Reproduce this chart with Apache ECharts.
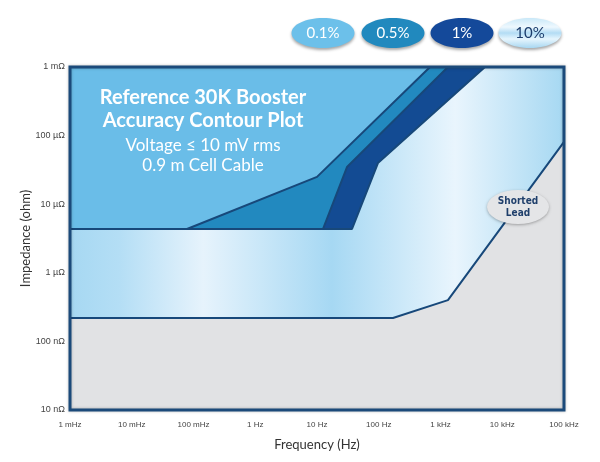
<!DOCTYPE html>
<html>
<head>
<meta charset="utf-8">
<script src="https://cdn.jsdelivr.net/npm/echarts@6/dist/echarts.min.js"></script>
<style>html,body{margin:0;padding:0;background:#fff}#c{width:600px;height:462px}</style>
</head>
<body>
<div id="c"></div>
<script>
// ---- data ----
const xTickLabels = ['1 mHz', '10 mHz', '100 mHz', '1 Hz', '10 Hz', '100 Hz', '1 kHz', '10 kHz', '100 kHz'];
const yTickLabels = ['10 nΩ', '100 nΩ', '1 µΩ', '10 µΩ', '100 µΩ', '1 mΩ'];
const legendLabels = ['0.1%', '0.5%', '1%', '10%'];

// Shorted lead (noise floor) boundary
const shortedFreq = [0.001, 170, 1320, 100000];
const shortedZ    = [2.19e-7, 2.19e-7, 4.0e-7, 8.1e-5];
// 1% contour boundary (right edge of 1% band)
const c1Freq = [0.001, 36.9, 97, 5250];
const c1Z    = [4.35e-6, 4.35e-6, 3.98e-5, 1e-3];
// 0.5% contour boundary
const c05Freq = [0.001, 12.5, 30.6, 1320];
const c05Z    = [4.35e-6, 4.35e-6, 3.48e-5, 1e-3];
// 0.1% contour boundary
const c01Freq = [0.001, 0.0785, 10, 676];
const c01Z    = [4.35e-6, 4.35e-6, 2.5e-5, 1e-3];
// Shorted lead label position
const shortedLabelAt = [18000, 9.1e-6];

const zip = (a, b) => a.map((v, i) => [v, b[i]]);

const chart = echarts.init(document.getElementById('c'));
const edge = '#17487a';
const lineStyle = { color: edge, width: 2 };

const band10 = new echarts.graphic.LinearGradient(0, 0, 1, 0, [
  { offset: 0, color: '#a6d8f2' },
  { offset: 0.1, color: '#b4def5' },
  { offset: 0.27, color: '#e6f3fc' },
  { offset: 0.53, color: '#a6d8f3' },
  { offset: 0.78, color: '#e9f5fd' },
  { offset: 1, color: '#a6d8f2' }
]);

const pillColors = ['#6cc0ea', '#2189be', '#14499a',
  new echarts.graphic.LinearGradient(0, 0, 0, 1, [
    { offset: 0, color: '#c9e8f8' },
    { offset: 0.3, color: '#eef8fe' },
    { offset: 0.5, color: '#b3dcf4' },
    { offset: 0.7, color: '#e6f5fd' },
    { offset: 1, color: '#a8d7f1' }
  ])];
const pillText = ['#ffffff', '#ffffff', '#ffffff', '#1b3c6c'];
const pillX = [323, 393, 462, 530];

const legendGraphic = legendLabels.map((t, i) => ({
  type: 'group',
  x: pillX[i], y: 33,
  children: [
    { type: 'ellipse', shape: { cx: 0, cy: 0, rx: 31.5, ry: 15 },
      style: { fill: pillColors[i], shadowColor: 'rgba(0,0,0,0.35)', shadowBlur: 3, shadowOffsetY: 2 } },
    { type: 'text', x: 0, y: 0,
      style: { text: t, fill: pillText[i], font: '15px Lato', align: 'center', verticalAlign: 'middle' } }
  ]
}));

const axisFont = { color: '#444', fontSize: 8, fontFamily: 'Liberation Sans' };

chart.setOption({
  animation: false,
  backgroundColor: '#ffffff',
  title: {
    text: 'Reference 30K Booster\nAccuracy Contour Plot',
    subtext: 'Voltage ≤ 10 mV rms\n0.9 m Cell Cable',
    left: 203, top: 86, textAlign: 'center', itemGap: 4, padding: 0, z: 20,
    textStyle: { color: '#ffffff', fontSize: 20, fontWeight: 'bold', fontFamily: 'Lato', lineHeight: 23 },
    subtextStyle: { color: '#ffffff', fontSize: 17, fontFamily: 'Lato', lineHeight: 20 }
  },
  graphic: legendGraphic,
  grid: {
    left: 70, right: 36, top: 67, bottom: 52, show: true, z: 10,
    backgroundColor: 'transparent', borderColor: '#1b4a7a', borderWidth: 3,
    shadowColor: 'rgba(0,0,0,0.25)', shadowBlur: 3
  },
  xAxis: {
    type: 'log', logBase: 10, min: 0.001, max: 100000, splitNumber: 8,
    name: 'Frequency (Hz)', nameLocation: 'middle', nameGap: 28, nameMoveOverlap: false,
    nameTextStyle: { color: '#333', fontSize: 13, fontFamily: 'Lato' },
    axisLine: { show: false }, axisTick: { show: false }, splitLine: { show: false },
    axisLabel: Object.assign({ margin: 11,
      formatter: v => xTickLabels[Math.round(Math.log10(v)) + 3] }, axisFont)
  },
  yAxis: {
    type: 'log', logBase: 10, min: 1e-8, max: 1e-3, splitNumber: 5,
    name: 'Impedance (ohm)', nameLocation: 'middle', nameGap: 38, nameMoveOverlap: false,
    nameTextStyle: { color: '#333', fontSize: 13, fontFamily: 'Lato' },
    axisLine: { show: false }, axisTick: { show: false }, splitLine: { show: false },
    axisLabel: Object.assign({ margin: 5,
      formatter: v => yTickLabels[Math.round(Math.log10(v)) + 8] }, axisFont, { fontSize: 9 })
  },
  series: [
    { name: 'Shorted Lead', type: 'line', data: zip(shortedFreq, shortedZ), symbol: 'none',
      lineStyle: { width: 0 }, areaStyle: { color: '#e1e2e4', opacity: 1, origin: 'start' }, z: 1 },
    { name: '10%', type: 'line', data: zip(shortedFreq, shortedZ), symbol: 'none',
      lineStyle: lineStyle, areaStyle: { color: band10, opacity: 1, origin: 'end' }, z: 2,
      markPoint: {
        symbol: 'path://M0,17 A31,17 0 1,1 62,17 A31,17 0 1,1 0,17 Z',
        symbolSize: [62, 34],
        itemStyle: { color: '#e4e5e7', shadowColor: 'rgba(0,0,0,0.3)', shadowBlur: 3, shadowOffsetY: 1 },
        label: { show: true, formatter: 'Shorted\nLead', color: '#1f3f6b', fontSize: 10,
          fontWeight: 'bold', fontFamily: 'DejaVu Sans Condensed', lineHeight: 12 },
        data: [{ coord: shortedLabelAt }]
      } },
    { name: '1%', type: 'line', data: zip(c1Freq, c1Z), symbol: 'none',
      lineStyle: lineStyle, areaStyle: { color: '#134b93', opacity: 1, origin: 'end' }, z: 3 },
    { name: '0.5%', type: 'line', data: zip(c05Freq, c05Z), symbol: 'none',
      lineStyle: lineStyle, areaStyle: { color: '#2289bf', opacity: 1, origin: 'end' }, z: 4 },
    { name: '0.1%', type: 'line', data: zip(c01Freq, c01Z), symbol: 'none',
      lineStyle: lineStyle, areaStyle: { color: '#6abde8', opacity: 1, origin: 'end' }, z: 5 }
  ]
});
</script>
</body>
</html>
